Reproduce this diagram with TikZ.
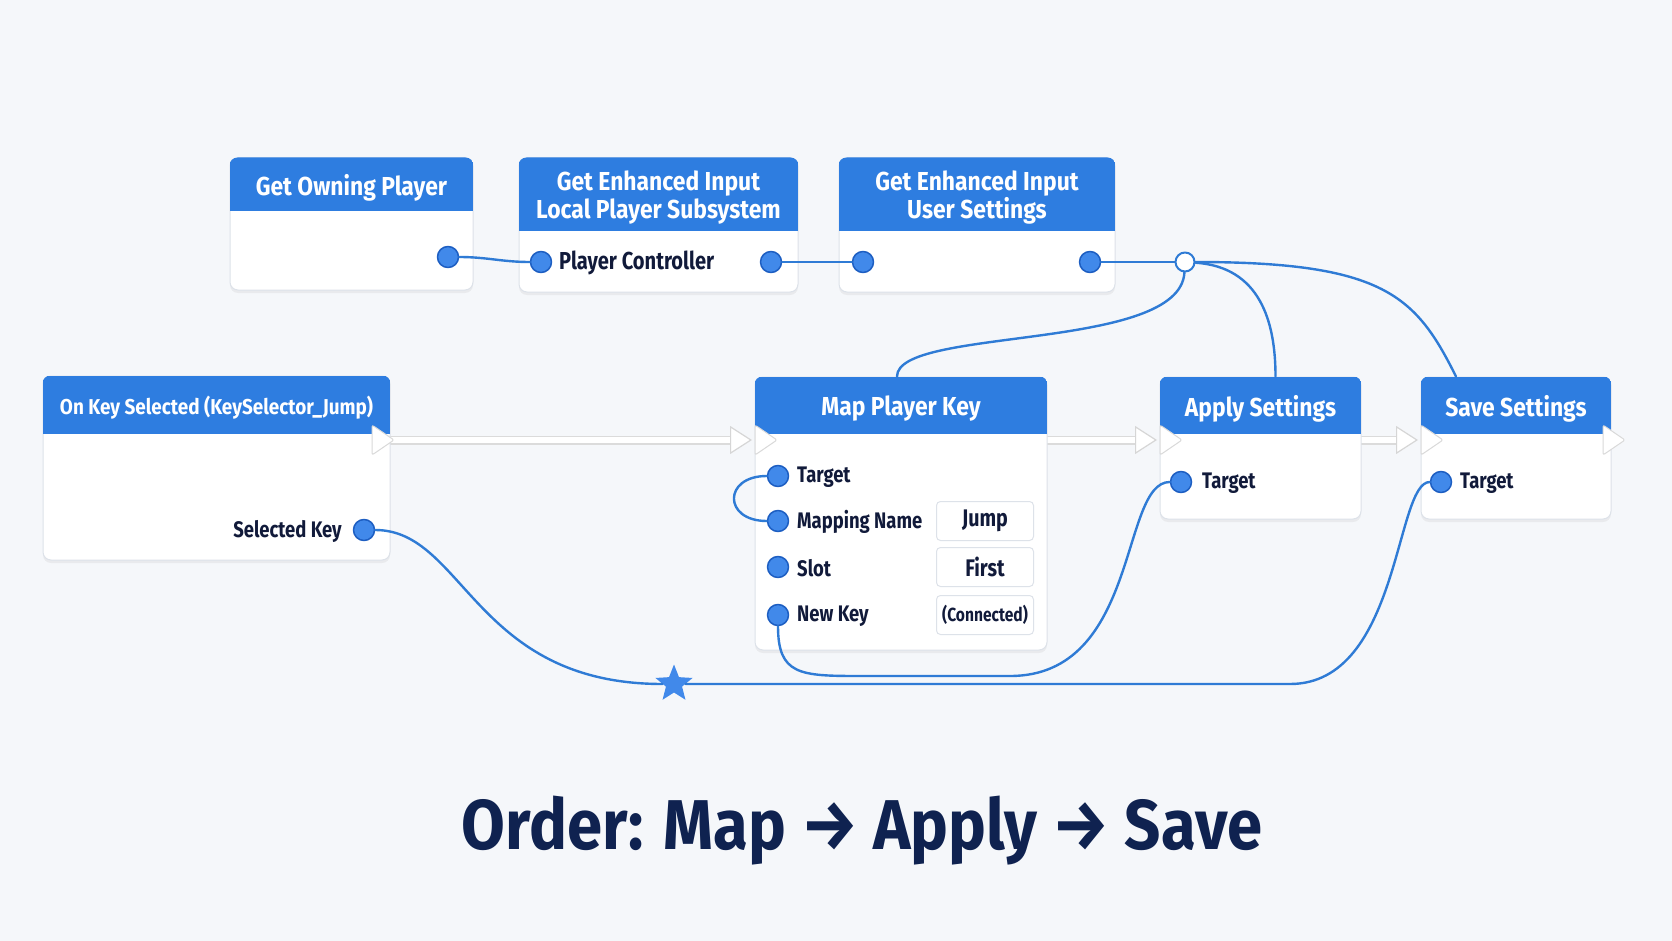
\documentclass[tikz,border=0pt]{standalone}
\usepackage{fontspec}
\setmainfont{Fira Sans}[FakeStretch=0.82]
\newfontfamily\headfont{Fira Sans}[FakeStretch=0.88]
\newfontfamily\titlefont{Fira Sans}[FakeStretch=0.9]
\usetikzlibrary{arrows.meta,shapes.geometric,shadows,fit}

\definecolor{canvas}{HTML}{F5F7FA}
\definecolor{headblue}{HTML}{2E7DE0}
\definecolor{pinblue}{HTML}{4189EA}
\definecolor{pinedge}{HTML}{1D5EC2}
\definecolor{wireblue}{HTML}{2F7BD5}
\definecolor{inkdark}{HTML}{111A3A}
\definecolor{titleink}{HTML}{0F2250}
\definecolor{panelline}{HTML}{DDE2E9}

\begin{document}
\begin{tikzpicture}[x=1pt,y=-1pt,line cap=round,line join=round,
  panel/.style={draw=panelline,line width=1pt,fill=white,rounded corners=8pt,
    drop shadow={opacity=.10,shadow xshift=0pt,shadow yshift=-3pt}},
  pin/.style={circle,draw=pinedge,fill=pinblue,line width=1.5pt,minimum size=21pt,inner sep=0pt},
  pintext/.style={font=\bfseries\fontsize{22.5}{24}\selectfont,text=inkdark,inner sep=0pt},
  valuebox/.style={draw=panelline,line width=1pt,fill=white,rounded corners=4pt,
    minimum width=97pt,minimum height=39pt,inner sep=0pt,text=inkdark,
    font=\bfseries\fontsize{24}{26}\selectfont},
  wire/.style={draw=wireblue,line width=2.4pt},
  execwire/.style={draw=white,line width=6pt,shorten >=3pt,
    preaction={draw=black!14,line width=9pt,-,shorten >=22pt},
    -{Triangle[width=28pt,length=22pt,line width=1.2pt,color=black!16,fill=white]}},
  execpin/.style={fill=white,draw=black!15,line width=1pt,rounded corners=2pt}]

  \fill[canvas] (0,0) rectangle (1672,941);
  \useasboundingbox (0,0) rectangle (1672,941);

  % exec flow, behind the panels
  \coordinate (oks-then) at (372,440);
  \coordinate (mpk-exec) at (755,440);
  \coordinate (mpk-then) at (1047,440);
  \coordinate (aps-exec) at (1160,440);
  \coordinate (aps-then) at (1361,440);
  \coordinate (svs-exec) at (1421,440);
  \coordinate (svs-then) at (1603,440);
  \draw[execwire] (oks-then) -- (mpk-exec);
  \draw[execwire] (mpk-then) -- (aps-exec);
  \draw[execwire] (aps-then) -- (svs-exec);

  % panels
  \foreach \id/\xa/\ya/\xb/\yb/\yh/\fs/\heading in {
    gop/230/158/473/290/211/26/{Get Owning Player},
    lps/519/158/798/292/231/26/{Get Enhanced Input\\Local Player Subsystem},
    eus/839/158/1115/292/231/26/{Get Enhanced Input\\User Settings},
    oks/43/376/390/560/434/21.5/{On Key Selected (KeySelector\_Jump)},
    mpk/755/377/1047/650/434/26/{Map Player Key},
    aps/1160/377/1361/519/434/26/{Apply Settings},
    svs/1421/377/1611/519/434/26/{Save Settings}} {
    \node[panel,fit={(\xa,\ya) (\xb,\yb)},inner sep=0pt] (\id) {};
    \begin{scope}
      \clip[rounded corners=8pt] (\id.north west) rectangle (\id.south east);
      \fill[headblue] (\id.north west) rectangle (\xb,\yh);
    \end{scope}
    \node[font=\headfont\bfseries\fontsize{\fs}{28}\selectfont,text=white,align=center]
      (\id-title) at ({(\xa+\xb)/2},{(\ya+\yh)/2+3}) {\heading};
  }

  \foreach \p in {oks-then,mpk-exec,aps-exec,svs-exec,svs-then}
    \filldraw[execpin] (\p) ++(0,-15) -- ++(22,15) -- ++(-22,15) -- cycle;

  % pins and their texts
  \node[pin] (gop-out) at (448,257) {};
  \node[pin] (lps-in) at (541,262) {};
  \node[pin] (lps-out) at (771,262) {};
  \node[pin] (eus-in) at (863,262) {};
  \node[pin] (eus-out) at (1090,262) {};
  \node[pin] (oks-key) at (364,530) {};
  \node[pin] (mpk-target) at (778,476) {};
  \node[pin] (mpk-name) at (778,521) {};
  \node[pin] (mpk-slot) at (778,567) {};
  \node[pin] (mpk-key) at (778,615) {};
  \node[pin] (aps-target) at (1181,482) {};
  \node[pin] (svs-target) at (1441,482) {};

  \node[pintext,font=\bfseries\fontsize{24.5}{26}\selectfont,anchor=west] (lps-in-text) at (559,263) {Player Controller};
  \node[pintext,anchor=east] (oks-key-text) at (342,531) {Selected Key};
  \node[pintext,anchor=west] (mpk-target-text) at (797,477) {Target};
  \node[pintext,anchor=west] (mpk-name-text) at (797,522) {Mapping Name};
  \node[pintext,anchor=west] (mpk-slot-text) at (797,568) {Slot};
  \node[pintext,anchor=west] (mpk-key-text) at (797,616) {New Key};
  \node[pintext,anchor=west] (aps-target-text) at (1202,483) {Target};
  \node[pintext,anchor=west] (svs-target-text) at (1460,483) {Target};

  \node[valuebox] (mpk-name-value) at (985,521) {Jump};
  \node[valuebox] (mpk-slot-value) at (985,567) {First};
  \node[valuebox,font=\bfseries\fontsize{19}{21}\selectfont] (mpk-key-value) at (985,615) {(Connected)};

  \node[circle,draw=wireblue,fill=white,line width=2pt,minimum size=19pt,inner sep=0pt] (knot) at (1185,262) {};
  \node[star,star points=5,star point ratio=2.3,fill=pinblue,minimum size=39pt,inner sep=0pt] (reroute) at (674,684) {};

  % data wires
  \draw[wire] (gop-out) to[out=0,in=180] (lps-in);
  \draw[wire] (lps-out) -- (eus-in);
  \draw[wire] (eus-out) -- (knot);
  \draw[wire] (knot) .. controls +(-5,90) and +(0,-50) .. ([xshift=-4pt]mpk.north);
  \draw[wire] (knot) .. controls +(75,5) and +(0,-55) .. ([xshift=15pt]aps.north);
  \draw[wire] (knot) .. controls +(200,0) and +(-40,-80) .. ([xshift=-60pt]svs.north);
  \draw[wire] (mpk-target) .. controls +(-55,0) and +(-55,0) .. (mpk-name);
  \draw[wire] (oks-key) .. controls +(100,0) and +(-200,0) .. (reroute);
  \draw[wire] (reroute) -- (1290,684) .. controls (1400,684) and (1395,482) .. (svs-target);
  \draw[wire] (mpk-key) .. controls +(0,60) and +(-60,0) .. (860,676) -- (1010,676)
    .. controls (1140,676) and (1120,482) .. (aps-target);

  \node[font=\titlefont\bfseries\fontsize{70.5}{78}\selectfont,text=titleink] (order) at (862,831)
    {Order: Map → Apply → Save};
\end{tikzpicture}
\end{document}
